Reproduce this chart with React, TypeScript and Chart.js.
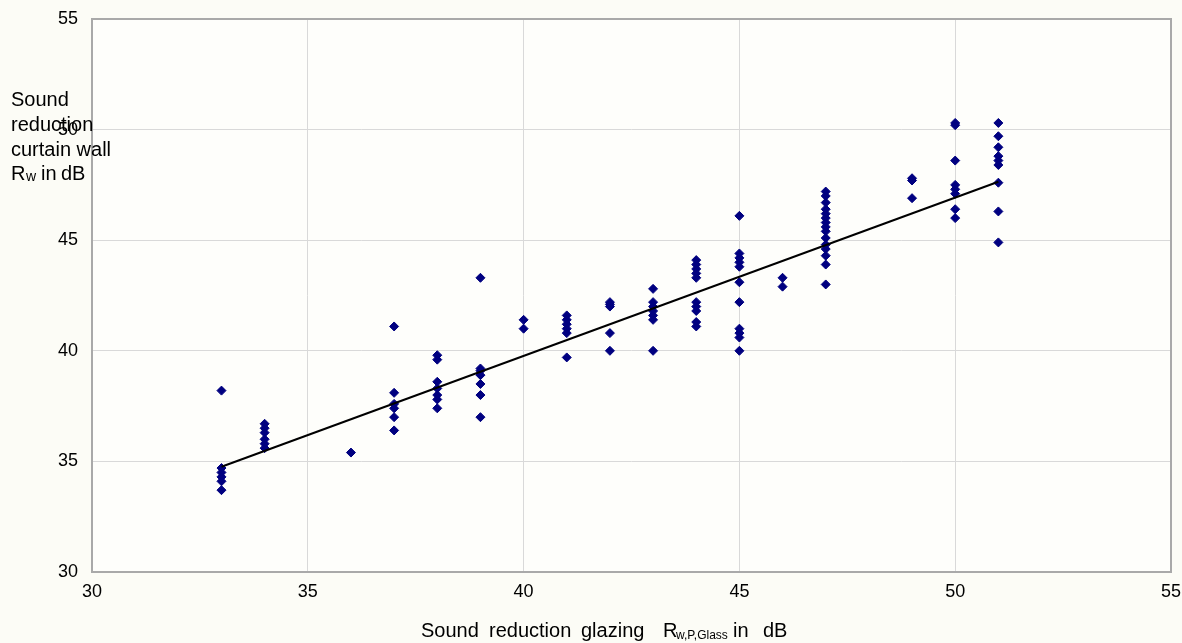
import React, { useEffect, useRef } from "react";
import { Chart, registerables } from "chart.js";

Chart.register(...registerables);

// Sound reduction of glazing (x) vs curtain wall (y), in dB
const glazingRw = [
  33, 33, 33, 33, 33, 33,
  34, 34, 34, 34, 34, 34,
  36,
  37, 37, 37, 37, 37, 37,
  38, 38, 38, 38, 38, 38, 38,
  39, 39, 39, 39, 39, 39, 39,
  40, 40,
  41, 41, 41, 41, 41, 41,
  42, 42, 42, 42, 42,
  43, 43, 43, 43, 43, 43, 43,
  44, 44, 44, 44, 44, 44, 44, 44, 44, 44,
  45, 45, 45, 45, 45, 45, 45, 45, 45, 45, 45,
  46, 46,
  47, 47, 47, 47, 47, 47, 47, 47, 47, 47, 47, 47, 47, 47, 47,
  49, 49, 49,
  50, 50, 50, 50, 50, 50, 50, 50,
  51, 51, 51, 51, 51, 51, 51, 51, 51,
];
const curtainWallRw = [
  38.2, 34.7, 34.5, 34.3, 34.1, 33.7,
  36.7, 36.5, 36.3, 36.0, 35.8, 35.6,
  35.4,
  41.1, 38.1, 37.6, 37.4, 37.0, 36.4,
  39.8, 39.6, 38.6, 38.3, 38.0, 37.8, 37.4,
  43.3, 39.2, 39.1, 38.9, 38.5, 38.0, 37.0,
  41.4, 41.0,
  41.6, 41.4, 41.2, 41.0, 40.8, 39.7,
  42.2, 42.1, 42.0, 40.8, 40.0,
  42.8, 42.2, 42.0, 41.8, 41.6, 41.4, 40.0,
  44.1, 43.9, 43.7, 43.5, 43.3, 42.2, 42.0, 41.8, 41.3, 41.1,
  46.1, 44.4, 44.2, 44.0, 43.8, 43.1, 42.2, 41.0, 40.8, 40.6, 40.0,
  43.3, 42.9,
  47.2, 47.0, 46.7, 46.4, 46.2, 46.0, 45.8, 45.6, 45.4, 45.1, 44.8, 44.6, 44.3, 43.9, 43.0,
  47.8, 47.7, 46.9,
  50.3, 50.2, 48.6, 47.5, 47.3, 47.1, 46.4, 46.0,
  50.3, 49.7, 49.2, 48.8, 48.6, 48.4, 47.6, 46.3, 44.9,
];

// Regression line end points
const fitX = [33, 51];
const fitY = [34.76, 47.64];

// Axis range
const axisMin = 30;
const axisMax = 55;
const axisStep = 5;

const xTitleParts = ["Sound", "reduction", "glazing", "R"];
const xTitleSub = "w,P,Glass";
const xTitleTail = ["in", "dB"];
const yTitleLines = ["Sound", "reduction", "curtain wall"];
const yTitleLast = ["R", "w", "in", "dB"];

const FONT = "'Liberation Sans', Arial, sans-serif";

const decorPlugin = {
  id: "decor",
  beforeDraw(chart: any) {
    const { ctx, chartArea, width, height } = chart;
    ctx.save();
    ctx.fillStyle = "#fcfcf6";
    ctx.fillRect(0, 0, width, height);
    ctx.fillStyle = "#fefefb";
    ctx.fillRect(chartArea.left, chartArea.top, chartArea.right - chartArea.left, chartArea.bottom - chartArea.top);
    ctx.restore();
  },
  beforeDatasetsDraw(chart: any) {
    const { ctx, chartArea } = chart;
    ctx.save();
    ctx.strokeStyle = "#a9a9a9";
    ctx.lineWidth = 2;
    ctx.strokeRect(chartArea.left, chartArea.top, chartArea.right - chartArea.left, chartArea.bottom - chartArea.top);
    ctx.restore();
  },
  afterDraw(chart: any) {
    const { ctx } = chart;
    ctx.save();
    ctx.fillStyle = "#000";
    ctx.textBaseline = "alphabetic";
    ctx.textAlign = "left";
    // x title
    const big = `20px ${FONT}`;
    const xSmall = `12px ${FONT}`;
    const small = `14px ${FONT}`;
    const xPos = [421, 489, 581, 663];
    ctx.font = big;
    xTitleParts.forEach((t, i) => ctx.fillText(t, xPos[i], 637));
    ctx.font = xSmall;
    ctx.fillText(xTitleSub, 676, 639);
    ctx.font = big;
    ctx.fillText(xTitleTail[0], 733, 637);
    ctx.fillText(xTitleTail[1], 763, 637);
    // y title
    const yBase = [106, 131, 156];
    yTitleLines.forEach((t, i) => ctx.fillText(t, 11, yBase[i]));
    ctx.fillText(yTitleLast[0], 11, 180);
    ctx.font = small;
    ctx.fillText(yTitleLast[1], 26, 181);
    ctx.font = big;
    ctx.fillText(yTitleLast[2], 41, 180);
    ctx.fillText(yTitleLast[3], 61, 180);
    ctx.restore();
  },
};

function zeroPadding(scale: any) {
  scale.paddingTop = 0;
  scale.paddingBottom = 0;
  scale.paddingLeft = 0;
  scale.paddingRight = 0;
}

export default function App() {
  const ref = useRef<HTMLCanvasElement | null>(null);

  useEffect(() => {
    if (!ref.current) return;
    const points = glazingRw.map((x, i) => ({ x, y: curtainWallRw[i] }));
    const fit = fitX.map((x, i) => ({ x, y: fitY[i] }));
    const tickFont = { family: FONT, size: 18 };
    const chart = new Chart(ref.current, {
      type: "scatter",
      data: {
        datasets: [
          {
            type: "line" as any,
            data: fit,
            borderColor: "#000000",
            borderWidth: 2,
            pointRadius: 0,
            showLine: true,
            fill: false,
            order: 0,
          } as any,
          {
            data: points,
            pointStyle: "rectRot",
            pointRadius: 4.5,
            backgroundColor: "#000080",
            borderColor: "#000080",
            borderWidth: 1,
            order: 1,
          },
        ],
      },
      options: {
        animation: false,
        responsive: false,
        devicePixelRatio: 1,
        layout: { padding: { top: 19, right: 11, left: 0, bottom: 0 } },
        plugins: { legend: { display: false }, tooltip: { enabled: false } },
        scales: {
          x: {
            type: "linear",
            min: axisMin,
            max: axisMax,
            afterFit(scale: any) {
              scale.height = 71;
              zeroPadding(scale);
            },
            ticks: { stepSize: axisStep, color: "#000", font: tickFont, padding: 9 },
            grid: { color: "#d9d9d9", lineWidth: 1, drawTicks: false },
            border: { display: false },
          },
          y: {
            type: "linear",
            min: axisMin,
            max: axisMax,
            afterFit(scale: any) {
              scale.width = 92;
              zeroPadding(scale);
            },
            ticks: { stepSize: axisStep, color: "#000", font: tickFont, padding: 14 },
            grid: { color: "#d9d9d9", lineWidth: 1, drawTicks: false },
            border: { display: false },
          },
        },
      },
      plugins: [decorPlugin],
    });
    return () => chart.destroy();
  }, []);

  return (
    <div style={{ position: "fixed", left: 0, top: 0, width: 1182, height: 643 }}>
      <canvas ref={ref} width={1182} height={643} style={{ display: "block" }} />
    </div>
  );
}
